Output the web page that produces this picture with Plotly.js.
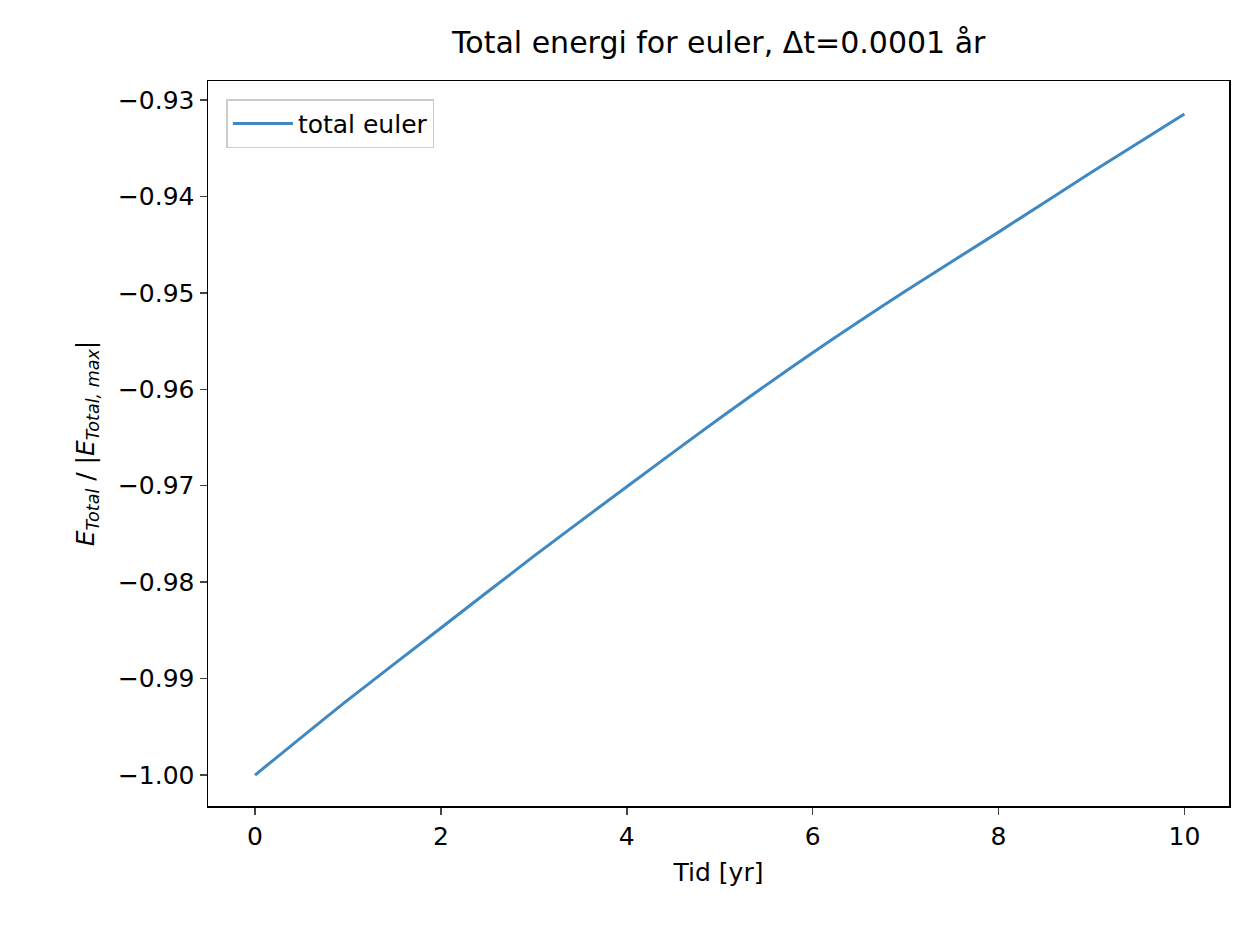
<!DOCTYPE html>
<html>
<head>
<meta charset="utf-8">
<script src="https://cdn.plot.ly/plotly-3.0.1.min.js"></script>
<style>body{margin:0;background:#fff}</style>
</head>
<body>
<div id="chart" style="width:1250px;height:926px"></div>
<script>
var tid = [0, 1, 2, 3, 4, 5, 6, 7, 8, 9, 10];
var energi = [-1.0, -0.9922, -0.98475, -0.9773, -0.9701, -0.963, -0.9562, -0.9498, -0.9437, -0.9375, -0.93145];

var trace1 =
{
    x: tid,
    y: energi,
    type: "scatter",
    mode: "lines",
    line: {color: "#3f88c1", width: 3, shape: "spline", smoothing: 0.6},
    name: "total euler"
};
var axisStyle = {
    showgrid: false, zeroline: false, showline: true, mirror: true,
    linecolor: "#000", linewidth: 1.5, ticks: "outside", ticklen: 7, tickwidth: 1.5,
    tickfont: {size: 25, color: "#000"}
};
var layout =
{
    font: {family: "DejaVu Sans", color: "#000"},
    title: {text: "Total energi for euler, Δt=0.0001 år", font: {size: 30}, x: 0.575, xanchor: "center", y: 0.965},
    xaxis: Object.assign({}, axisStyle, {range: [-0.506, 10.48], dtick: 2,
        title: {text: "Tid [yr]", font: {size: 25}, standoff: 14}}),
    yaxis: Object.assign({}, axisStyle, {range: [-1.00321, -0.92803], dtick: 0.01, tickformat: ".2f",
        title: {text: "<i>E</i><sub><i>Total</i></sub> / |<i>E</i><sub><i>Total, max</i></sub>|", font: {size: 25}, standoff: 16}}),
    showlegend: true,
    legend: {x: 0.018, y: 0.975, xanchor: "left", yanchor: "top", bgcolor: "rgba(255,255,255,0.8)",
        bordercolor: "#ccc", borderwidth: 1.5, font: {size: 25}, itemwidth: 60},
    margin: {l: 208, r: 21, t: 81, b: 120},
    plot_bgcolor: "#fff",
    paper_bgcolor: "#fff"
};
Plotly.newPlot('chart', [trace1], layout, {displayModeBar: false, staticPlot: true});
</script>
</body>
</html>
